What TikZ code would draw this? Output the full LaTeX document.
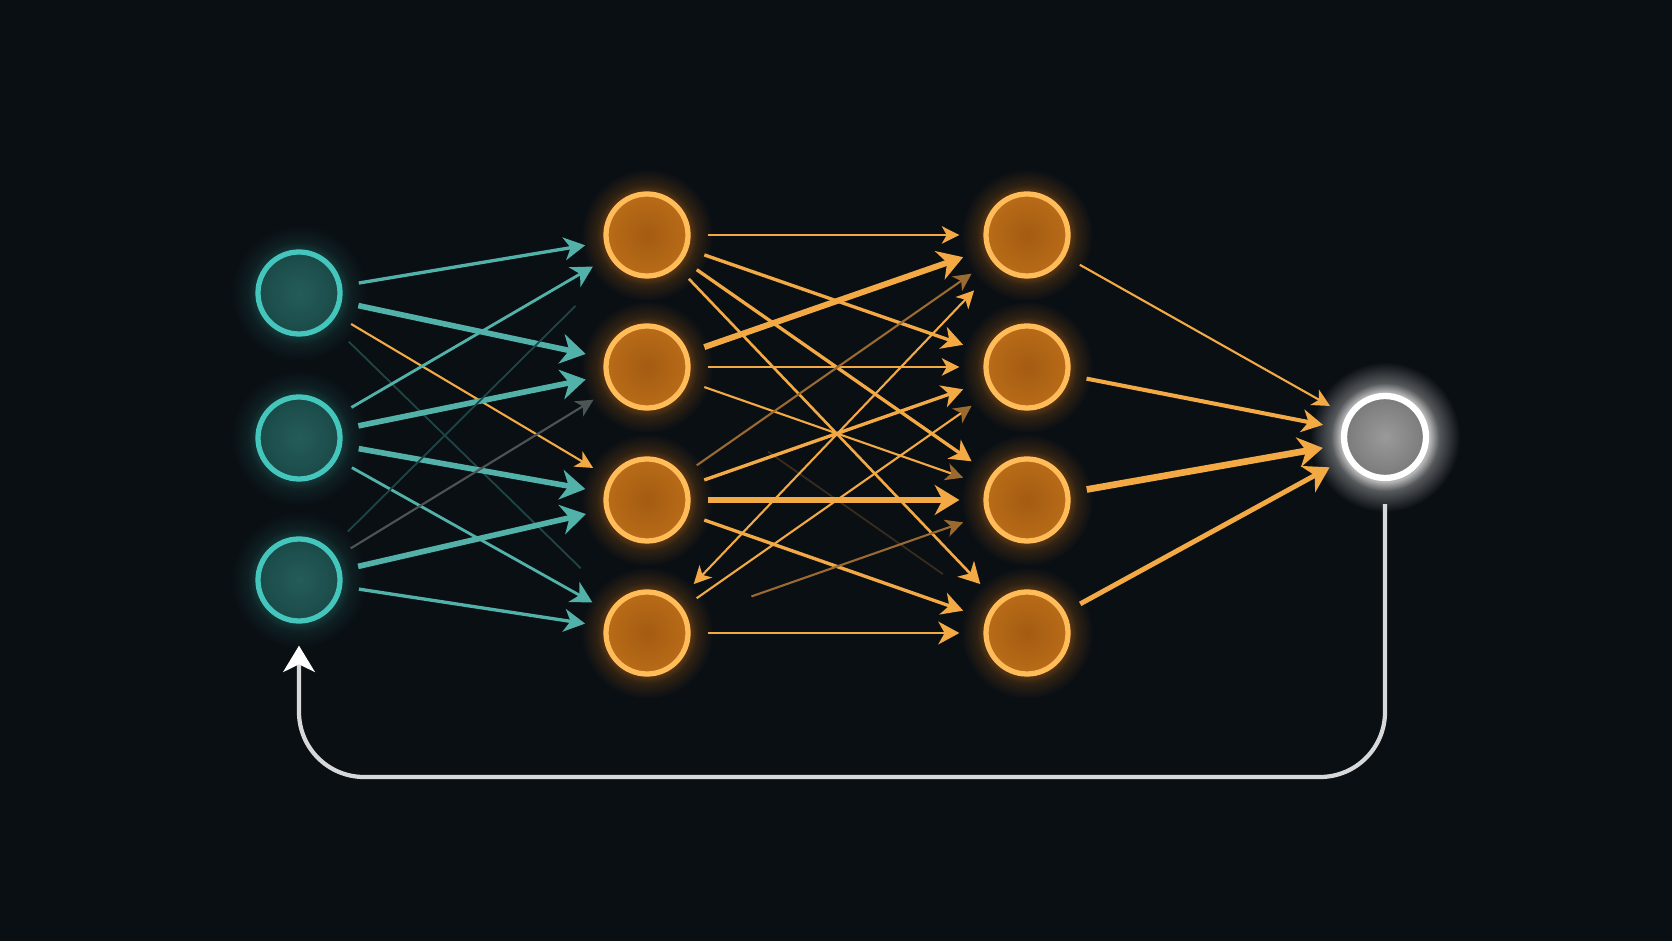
\documentclass[tikz,border=0pt]{standalone}
\usepackage{tikz}
\usetikzlibrary{arrows.meta,backgrounds}
\definecolor{bgc}{HTML}{0A0F14}
\definecolor{tealc}{HTML}{52B2AA}
\definecolor{tealring}{HTML}{44C6BC}
\definecolor{tealin}{HTML}{245C5A}
\definecolor{tealout}{HTML}{1A4A48}
\definecolor{tealdim}{HTML}{1F4646}
\definecolor{tealhalo}{HTML}{143636}
\definecolor{greyc}{HTML}{4C5454}
\definecolor{orangec}{HTML}{F3AA45}
\definecolor{orangedim}{HTML}{9A6A30}
\definecolor{brownc}{HTML}{3A2C1C}
\definecolor{orangering}{HTML}{FFBC58}
\definecolor{orangein}{HTML}{A45C12}
\definecolor{orangeout}{HTML}{B96C18}
\definecolor{orangehalo}{HTML}{5C3812}
\definecolor{greyin}{HTML}{9A9A9A}
\definecolor{greyout}{HTML}{7A7A7A}
\definecolor{whitehalo}{HTML}{B4B4B4}
\definecolor{loopc}{HTML}{D6D8DA}
\pgfdeclareradialshading{orangeglow}{\pgfpoint{0bp}{0bp}}{color(0bp)=(orangehalo); color(16bp)=(orangehalo); color(19bp)=(orangehalo!45!bgc); color(25bp)=(bgc); color(50bp)=(bgc)}
\pgfdeclareradialshading{tealglow}{\pgfpoint{0bp}{0bp}}{color(0bp)=(tealhalo); color(16bp)=(tealhalo); color(19bp)=(tealhalo!40!bgc); color(25bp)=(bgc); color(50bp)=(bgc)}
\pgfdeclareradialshading{whiteglow}{\pgfpoint{0bp}{0bp}}{color(0bp)=(whitehalo); color(15bp)=(whitehalo); color(18bp)=(whitehalo!45!bgc); color(25bp)=(bgc); color(50bp)=(bgc)}
\tikzstyle{inpoint}=[circle,draw=tealring,line width=1.5pt,minimum size=0.82cm,inner sep=0pt,inner color=tealin,outer color=tealout]
\tikzstyle{hidpoint}=[circle,draw=orangering,line width=1.5pt,minimum size=0.82cm,inner sep=0pt,inner color=orangein,outer color=orangeout]
\tikzstyle{outpoint}=[circle,draw=white,line width=1.8pt,minimum size=0.82cm,inner sep=0pt,inner color=greyin,outer color=greyout]
\tikzstyle{wthin}=[line width=0.6pt,-{Stealth[length=5pt,width=5pt,inset=1.4pt]}]
\tikzstyle{wmid}=[line width=0.95pt,-{Stealth[length=6pt,width=6.5pt,inset=1.8pt]}]
\tikzstyle{wthick}=[line width=1.6pt,-{Stealth[length=7pt,width=8.5pt,inset=2.2pt]}]
\tikzstyle{ghost}=[line width=0.5pt]
\tikzstyle{back}=[loopc,line width=1.2pt,rounded corners=0.65cm,shorten <=0.23cm,shorten >=0.22cm,-{Stealth[length=7.5pt,width=9pt,inset=2.2pt,color=white]}]

\begin{document}
\begin{tikzpicture}[shorten >=0.19cm,shorten <=0.17cm]
  \useasboundingbox (0,0) rectangle (16.72,9.41);
  % input layer
  \node[inpoint] (I1) at (2.99,6.48) {};
  \node[inpoint] (I2) at (2.99,5.03) {};
  \node[inpoint] (I3) at (2.99,3.61) {};
  % first hidden layer
  \node[hidpoint] (A1) at (6.47,7.06) {};
  \node[hidpoint] (A2) at (6.47,5.74) {};
  \node[hidpoint] (A3) at (6.47,4.41) {};
  \node[hidpoint] (A4) at (6.47,3.08) {};
  % second hidden layer
  \node[hidpoint] (B1) at (10.27,7.06) {};
  \node[hidpoint] (B2) at (10.27,5.74) {};
  \node[hidpoint] (B3) at (10.27,4.41) {};
  \node[hidpoint] (B4) at (10.27,3.08) {};
  % output
  \node[outpoint] (O) at (13.85,5.04) {};
  \coordinate (base) at (0,1.64);
  % background and halos
  \begin{scope}[on background layer]
    \fill[bgc] (0,0) rectangle (16.72,9.41);
    \shade[shading=tealglow] (I1) circle (0.68);
    \shade[shading=tealglow] (I2) circle (0.68);
    \shade[shading=tealglow] (I3) circle (0.68);
    \shade[shading=orangeglow] (A1) circle (0.66);
    \shade[shading=orangeglow] (A2) circle (0.66);
    \shade[shading=orangeglow] (A3) circle (0.66);
    \shade[shading=orangeglow] (A4) circle (0.66);
    \shade[shading=orangeglow] (B1) circle (0.66);
    \shade[shading=orangeglow] (B2) circle (0.66);
    \shade[shading=orangeglow] (B3) circle (0.66);
    \shade[shading=orangeglow] (B4) circle (0.66);
    \shade[shading=whiteglow] (O) circle (0.75);
  \end{scope}
  % input -> first hidden
  \draw[wmid,tealc] (I1) -- (A1);
  \draw[wthick,tealc] (I1) -- (A2);
  \draw[wthin,orangec] (I1) -- (A3);
  \draw[ghost,tealdim,shorten <=0.26cm,shorten >=0.49cm] (I1) -- (A4);
  \draw[wmid,tealc,line width=0.8pt] (I2) -- (A1);
  \draw[wthick,tealc] (I2) -- (A2);
  \draw[wthick,tealc] (I2) -- (A3);
  \draw[wmid,tealc,line width=0.8pt] (I2) -- (A4);
  \draw[ghost,tealdim,shorten <=0.25cm,shorten >=0.57cm] (I3) -- (A1);
  \draw[wthin,greyc] (I3) -- (A2);
  \draw[wthick,tealc] (I3) -- (A3);
  \draw[wmid,tealc] (I3) -- (A4);
  % first hidden -> second hidden
  \begin{scope}[shorten >=0.24cm]
    \draw[wthin,orangec] (A1) -- (B1);
    \draw[wmid,orangec] (A1) -- (B2);
    \draw[wmid,orangec] (A1) -- (B3);
    \draw[wmid,orangec,line width=0.75pt] (A1) -- (B4);
    \draw[wthick,orangec,line width=1.7pt] (A2) -- (B1);
    \draw[wthin,orangec] (A2) -- (B2);
    \draw[wthin,orangec,-{Stealth[length=5pt,width=5pt,inset=1.4pt,color=orangedim]}] (A2) -- (B3);
    \draw[ghost,brownc,shorten <=1.04cm,shorten >=0.59cm] (A2) -- (B4);
    \draw[wthin,orangedim] (A3) -- (B1);
    \draw[wmid,orangec] (A3) -- (B2);
    \draw[wthick,orangec] (A3) -- (B3);
    \draw[wmid,orangec] (A3) -- (B4);
    \draw[wthin,orangec,{Stealth[length=5pt,width=5pt,inset=1.4pt]}-{Stealth[length=5pt,width=5pt,inset=1.4pt]},shorten <=0.24cm,shorten >=0.33cm] (A4) -- (B1);
    \draw[wthin,orangec,-{Stealth[length=5pt,width=5pt,inset=1.4pt,color=orangedim]}] (A4) -- (B2);
    \draw[wthin,orangedim,shorten <=0.67cm] (A4) -- (B3);
    \draw[wmid,orangec,line width=0.75pt] (A4) -- (B4);
  \end{scope}
  % second hidden -> output
  \draw[wthin,orangec] (B1) -- (O);
  \draw[wmid,orangec,line width=1.15pt] (B2) -- (O);
  \draw[wthick,orangec,line width=1.9pt] (B3) -- (O);
  \draw[wthick,orangec,line width=1.4pt] (B4) -- (O);
  % feedback
  \draw[back] (O) -- (O |- base) -- (I3 |- base) -- (I3);
\end{tikzpicture}
\end{document}
